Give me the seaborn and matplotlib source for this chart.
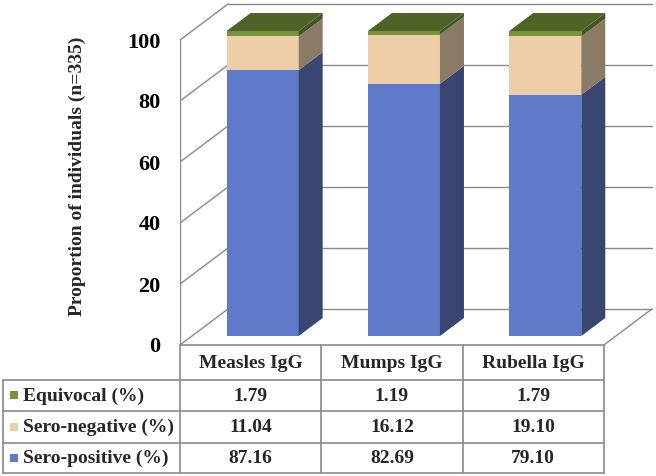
import pandas as pd
import matplotlib
matplotlib.use('Agg')
import matplotlib.pyplot as plt
import matplotlib.transforms as mtransforms
from matplotlib.patches import Polygon
import seaborn as sns

viruses = ['Measles IgG', 'Mumps IgG', 'Rubella IgG']
row_labels = ['Equivocal (%)', 'Sero-negative (%)', 'Sero-positive (%)']
equivocal = [1.79, 1.19, 1.79]
sero_negative = [11.04, 16.12, 19.10]
sero_positive = [87.16, 82.69, 79.10]
yticks = [0, 20, 40, 60, 80, 100]
ylabel = 'Proportion of individuals (n=335)'

sns.set_style('white')
plt.rcParams['font.family'] = ['Liberation Serif', 'DejaVu Serif']
plt.rcParams['font.weight'] = 'bold'

# colours: front, side
c_pos, c_pos_side = '#5f7ac8', '#394672'
c_neg, c_neg_side = '#edcea8', '#8a7a66'
c_equ, c_equ_side, c_equ_top = '#77933c', '#445522', '#4f6228'
grid_c = '#8a8a8a'

df = pd.DataFrame({'virus': viruses, 'pos': sero_positive,
                   'neg': sero_negative, 'equ': equivocal})
df['pos_neg'] = df['pos'] + df['neg']
df['total'] = df['pos_neg'] + df['equ']

W, H = 656, 476
fig = plt.figure(figsize=(W / 100, H / 100), dpi=100)
# axes: x in category units (141.3 px each), y in % (3.05 px per unit)
px_x, px_y = 141.3, 3.05
ax = fig.add_axes([180 / W, 131 / H, 476 / W, 345 / H])

bar_w = 0.51
layers = [('total', c_equ), ('pos_neg', c_neg), ('pos', c_pos)]
for col, c in layers:
    sns.barplot(data=df, x='virus', y=col, color=c, saturation=1,
                width=bar_w, errorbar=None, ax=ax, zorder=3,
                edgecolor='none', linewidth=0)

xmin = -0.5
xmax = xmin + 476 / px_x
ax.set_xlim(xmin, xmax)
ax.set_ylim(0, 345 / px_y)

# 3d depth of the walls, bars sit in the middle half
dx, dy = 48 / px_x, 36 / px_y
bdx, bdy = dx / 2, dy / 2
shift = mtransforms.Affine2D().translate(dx / 4, dy / 4) + ax.transData
for p in ax.patches:
    p.set_transform(shift)

# side and top faces
for i, row in df.iterrows():
    xr = i + bar_w / 2
    xl = i - bar_w / 2
    segs = [(0, row['pos'], c_pos_side),
            (row['pos'], row['pos_neg'], c_neg_side),
            (row['pos_neg'], row['total'], c_equ_side)]
    for b, t, c in segs:
        ax.add_patch(Polygon([(xr, b), (xr + bdx, b + bdy), (xr + bdx, t + bdy), (xr, t)],
                             closed=True, facecolor=c, edgecolor='none',
                             transform=shift, zorder=3))
    t = row['total']
    ax.add_patch(Polygon([(xl, t), (xr, t), (xr + bdx, t + bdy), (xl + bdx, t + bdy)],
                         closed=True, facecolor=c_equ_top, edgecolor='none',
                         transform=shift, zorder=3))

# walls and floor
x_end = 2.5 + dx
for v in yticks:
    ax.plot([xmin, xmin + dx], [v, v + dy], color=grid_c, lw=1, zorder=1)
    ax.plot([xmin + dx, x_end], [v + dy, v + dy], color=grid_c, lw=1, zorder=1)
ax.plot([xmin, xmin], [0, 100], color=grid_c, lw=1, zorder=1)
ax.plot([2.5, x_end], [0, dy], color=grid_c, lw=1, zorder=1)

# y ticks
ax.set_yticks(yticks)
ax.set_xticks([])
ax.set_xlabel('')
ax.set_ylabel('')
ax.tick_params(axis='y', length=0, pad=14, labelsize=16, labelcolor='black')
for s in ax.spines.values():
    s.set_visible(False)
ax.patch.set_alpha(0)

fig.text(77 / W, 1 - 176 / H, ylabel, rotation=90, ha='center', va='center',
         fontsize=14, fontweight='bold')

# data table under the chart
tab_kw = dict(color=grid_c, lw=1.2, clip_on=False, zorder=1)
row_y = [0, -11.5, -21.5, -32, -42]
x_left = xmin - 177 / px_x
ax.plot([xmin, 2.5], [0, 0], **tab_kw)
for y in row_y[1:]:
    ax.plot([x_left, 2.5], [y, y], **tab_kw)
for x in [xmin, 0.5, 1.5, 2.5]:
    ax.plot([x, x], [0, row_y[-1]], **tab_kw)
ax.plot([x_left, x_left], [row_y[1], row_y[-1]], **tab_kw)

txt_kw = dict(fontsize=14, fontweight='bold', clip_on=False)
for i, name in enumerate(viruses):
    ax.text(i, (row_y[0] + row_y[1]) / 2 - 0.3, name, ha='center', va='center', **txt_kw)

table_rows = [equivocal, sero_negative, sero_positive]
marker_c = [c_equ, c_neg, c_pos]
for r, (lab, vals, mc) in enumerate(zip(row_labels, table_rows, marker_c)):
    yc = (row_y[r + 1] + row_y[r + 2]) / 2
    ax.scatter([xmin - 166 / px_x], [yc], marker='s', s=40, color=mc,
               clip_on=False, zorder=4, linewidths=0)
    ax.text(xmin - 157 / px_x, yc - 0.3, lab, ha='left', va='center', **txt_kw)
    for i, v in enumerate(vals):
        ax.text(i, yc - 0.3, f'{v:.2f}', ha='center', va='center', **txt_kw)

plt.savefig('out.png', dpi=100)
plt.close()
